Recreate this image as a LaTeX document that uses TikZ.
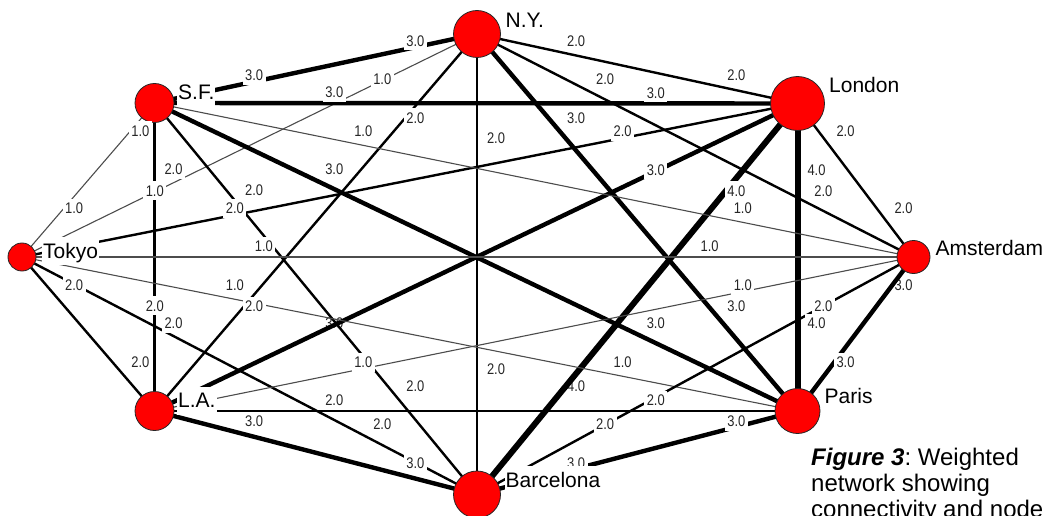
\documentclass[tikz,border=0pt]{standalone}
\usepackage{graphicx}
\usepackage{fontspec}
\setmainfont{Liberation Sans}
\usetikzlibrary{backgrounds,calc}
\frenchspacing
\newcommand\wlab[1]{\scalebox{0.84}[1]{\fontsize{15.4}{16}\selectfont #1}}
\newcommand\tieAB[4]{%
  \begin{pgfonlayer}{background}
    \draw[#1] (#2.center) -- (#3.center);
  \end{pgfonlayer}
  \node[wl] (l-#2-#3) at ($(#2.center)!0.25!(#3.center)+(19,-10.5)$) {\wlab{#4}};
  \node[wl] (l-#3-#2) at ($(#3.center)!0.25!(#2.center)+(19,-10.5)$) {\wlab{#4}};
}
\newcommand\tieUnder[4]{%
  \begin{pgfonlayer}{background}
    \node[wl] (l-#2-#3) at ($(#2.center)!0.25!(#3.center)+(19,-10.5)$) {\wlab{#4}};
    \draw[#1] (#2.center) -- (#3.center);
  \end{pgfonlayer}
  \node[wl] (l-#3-#2) at ($(#3.center)!0.25!(#2.center)+(19,-10.5)$) {\wlab{#4}};
}
\begin{document}
\begin{tikzpicture}[x=1pt,y=-1pt,
  city/.style={circle,fill=red,draw=black!85,line width=0.8pt,inner sep=0pt,minimum size=#1},
  w1/.style={line width=1.1pt,draw=black!70},
  w2/.style={line width=2.4pt,draw=black},
  w3/.style={line width=4.4pt,draw=black},
  w4/.style={line width=6pt,draw=black},
  wl/.style={fill=white,text=black!85,inner xsep=2.5pt,inner ysep=0pt,minimum height=19pt},
  cname/.style={anchor=base west,fill=white,inner xsep=1pt,inner ysep=1pt,text height=20pt,text depth=6pt,font=\fontsize{21}{24}\selectfont},
  capt/.style={anchor=base west,inner sep=0pt,font=\fontsize{24}{26}\selectfont},
]
\useasboundingbox (0,0) rectangle (1047,516);
\clip (0,0) rectangle (1047,516);

% cities
\node[city=47] (NY)  at (477,34) {};
\node[city=54] (LON) at (797.5,103.5) {};
\node[city=39] (SF)  at (154.5,103) {};
\node[city=28] (TOK) at (22,257) {};
\node[city=33] (AMS) at (913.5,257) {};
\node[city=39] (LA)  at (154.5,411) {};
\node[city=45] (PAR) at (797.5,411) {};
\node[city=47] (BAR) at (477,494.5) {};

% weighted ties (label near the first city is drawn beneath the lines)
\tieUnder{w3}{LA}{LON}{3.0}
\tieUnder{w4}{BAR}{LON}{4.0}
\tieUnder{w3}{AMS}{PAR}{3.0}

\tieAB{w2}{NY}{LON}{2.0}
\tieAB{w3}{NY}{SF}{3.0}
\tieAB{w1}{NY}{TOK}{1.0}
\tieAB{w2}{NY}{AMS}{2.0}
\tieAB{w2}{NY}{LA}{2.0}
\tieAB{w3}{NY}{PAR}{3.0}
\tieAB{w2}{NY}{BAR}{2.0}
\tieAB{w3}{LON}{SF}{3.0}
\tieAB{w2}{LON}{TOK}{2.0}
\tieAB{w2}{LON}{AMS}{2.0}
\tieAB{w4}{LON}{PAR}{4.0}
\tieAB{w1}{SF}{TOK}{1.0}
\tieAB{w1}{SF}{AMS}{1.0}
\tieAB{w2}{SF}{LA}{2.0}
\tieAB{w3}{SF}{PAR}{3.0}
\tieAB{w2}{SF}{BAR}{2.0}
\tieAB{w1}{TOK}{AMS}{1.0}
\tieAB{w2}{TOK}{LA}{2.0}
\tieAB{w1}{TOK}{PAR}{1.0}
\tieAB{w2}{TOK}{BAR}{2.0}
\tieAB{w1}{AMS}{LA}{1.0}
\tieAB{w2}{AMS}{BAR}{2.0}
\tieAB{w2}{LA}{PAR}{2.0}
\tieAB{w3}{LA}{BAR}{3.0}
\tieAB{w3}{PAR}{BAR}{3.0}

% city names
\node[cname] (nNY)  at (504.5,27.5) {N.Y.};
\node[cname] (nLON) at (828,92.3) {London};
\node[cname] (nSF)  at (177,100) {S.F.};
\node[cname] (nTOK) at (42,258) {Tokyo};
\node[cname] (nAMS) at (934.5,255) {Amsterdam};
\node[cname] (nLA)  at (177,407.5) {L.A.};
\node[cname] (nPAR) at (823.5,403.5) {Paris};
\node[cname] (nBAR) at (504.5,487) {Barcelona};

% caption
\node[capt] (c1) at (811,465.5) {{\bfseries\itshape Figure 3}: Weighted};
\node[capt] (c2) at (811,491.5) {network showing};
\node[capt] (c3) at (811,517.5) {connectivity and node};
\end{tikzpicture}
\end{document}
